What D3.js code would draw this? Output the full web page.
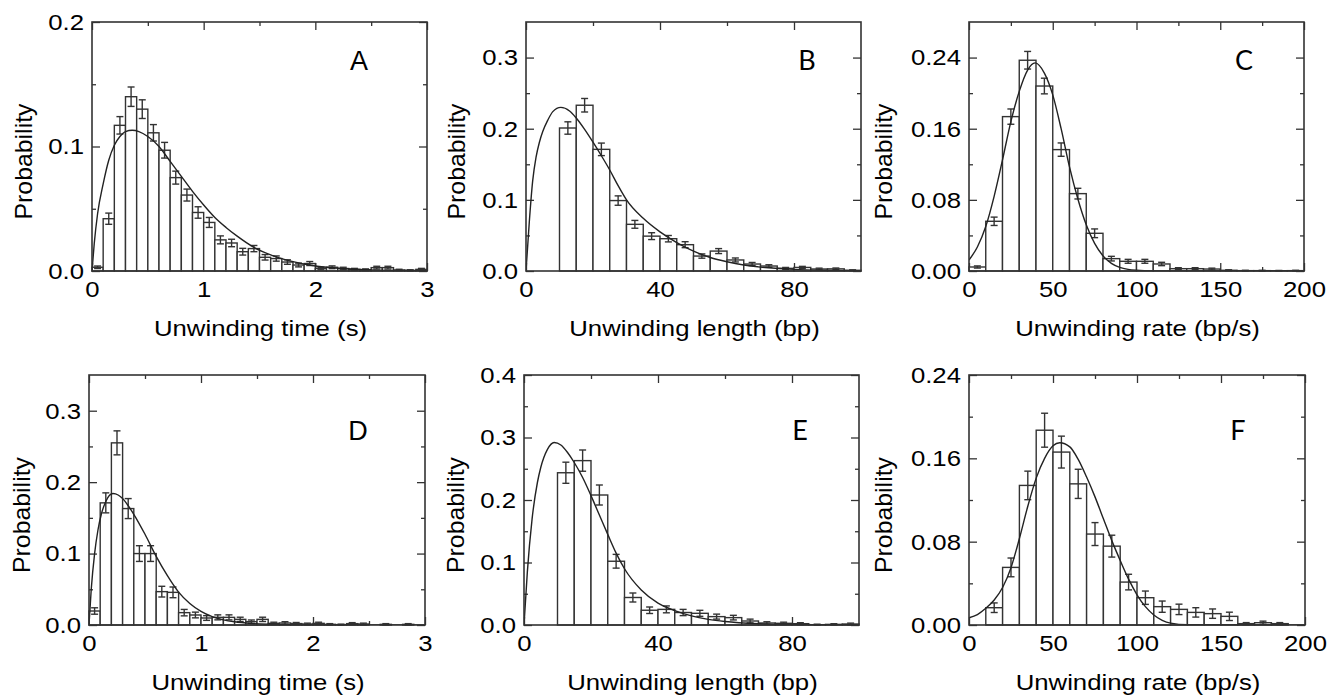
<!DOCTYPE html>
<html><head><meta charset="utf-8">
<script src="https://cdn.jsdelivr.net/npm/d3@7"></script>
<style>
body{margin:0;background:#fff}
svg{display:block}
</style>
</head><body>
<svg id="c" width="1341" height="697"></svg>
<script>
// ---------------- DATA ----------------
// Panel A: unwinding time (s), bin width 0.1
const aBins = [0,0.1,0.2,0.3,0.4,0.5,0.6,0.7,0.8,0.9,1.0,1.1,1.2,1.3,1.4,1.5,1.6,1.7,1.8,1.9,2.0,2.1,2.2,2.3,2.4,2.5,2.6,2.7,2.8,2.9];
const aProb = [0.003,0.042,0.117,0.140,0.130,0.111,0.097,0.075,0.061,0.047,0.039,0.025,0.0225,0.0155,0.018,0.011,0.010,0.0072,0.0048,0.006,0.002,0.003,0.002,0.0013,0.001,0.0027,0.0027,0.0008,0.0005,0.0013];
const aErr  = [0.001,0.0045,0.007,0.0078,0.0075,0.0066,0.0063,0.0052,0.0048,0.0046,0.004,0.0032,0.003,0.0027,0.0025,0.0022,0.0021,0.0018,0.0015,0.0016,0.001,0.0011,0.001,0.0008,0.0007,0.0011,0.0011,0.0006,0.0005,0.0008];
const aFitX = [0,0.02,0.05,0.1,0.15,0.2,0.25,0.3,0.36,0.42,0.5,0.6,0.7,0.8,0.9,1.0,1.1,1.2,1.3,1.45,1.6,1.8,2.0,2.2,2.5,2.8,3.0];
const aFitY = [0,0.022,0.046,0.070,0.089,0.101,0.108,0.112,0.113,0.112,0.108,0.100,0.088,0.076,0.064,0.053,0.043,0.035,0.028,0.019,0.013,0.0075,0.004,0.0022,0.0009,0.0004,0.0002];

// Panel B: unwinding length (bp), bin width 5
const bBins = [0,5,10,15,20,25,30,35,40,45,50,55,60,65,70,75,80,85,90,95];
const bProb = [0,0,0.201,0.233,0.171,0.099,0.0656,0.049,0.0454,0.037,0.021,0.028,0.0155,0.0098,0.007,0.0037,0.005,0.0028,0.003,0.001];
const bErr  = [0,0,0.0087,0.0095,0.0088,0.0066,0.0055,0.0048,0.0045,0.0042,0.003,0.0035,0.0028,0.0022,0.0018,0.0013,0.0015,0.0012,0.0012,0.0007];
const bFitX = [0,1,2,3,4,5,6.5,8,10.4,13,15,17.5,20,22.5,25,27.5,30,35,40,45,50,55,60,65,70,80,90,100];
const bFitY = [0,0.07,0.127,0.160,0.181,0.196,0.212,0.224,0.230,0.225,0.215,0.199,0.181,0.162,0.142,0.120,0.100,0.074,0.055,0.040,0.028,0.019,0.013,0.0085,0.0055,0.0023,0.001,0.0004];

// Panel C: unwinding rate (bp/s), bin width 10
const cBins = [0,10,20,30,40,50,60,70,80,90,100,110,120,130,140,150,160,170,180,190];
const cProb = [0.0045,0.0559,0.1736,0.237,0.208,0.1365,0.087,0.0424,0.0139,0.0109,0.0109,0.0079,0.0026,0.0026,0.0022,0.0008,0.0004,0.0004,0.0003,0.0004];
const cErr  = [0.0012,0.0047,0.0086,0.0099,0.0088,0.0075,0.006,0.0049,0.0026,0.0022,0.0022,0.0019,0.0011,0.0011,0.001,0.0006,0.0004,0.0004,0.0003,0.0004];
const cFitX = [0,5,10,15,20,25,30,35,39.5,45,50,55,60,65,70,75,80,85,90,95,100,110,120,200];
const cFitY = [0.0124,0.027,0.050,0.084,0.125,0.168,0.202,0.226,0.234,0.2225,0.198,0.160,0.117,0.081,0.052,0.031,0.017,0.0085,0.004,0.0018,0.0008,0.0001,0,0];

// Panel D: unwinding time (s), bin width 0.1
const dBins = [0,0.1,0.2,0.3,0.4,0.5,0.6,0.7,0.8,0.9,1.0,1.1,1.2,1.3,1.4,1.5,1.6,1.7,1.8,1.9,2.0,2.1,2.2,2.3,2.4,2.5,2.6,2.7,2.8,2.9];
const dProb = [0.0196,0.171,0.255,0.163,0.100,0.100,0.0467,0.0457,0.0173,0.014,0.0098,0.0107,0.0107,0.0079,0.0047,0.0079,0.0023,0.0028,0.002,0.0014,0.0023,0.0009,0.0005,0.0019,0.0014,0,0.0009,0,0.0009,0];
const dErr  = [0.0045,0.014,0.0168,0.014,0.011,0.011,0.0075,0.0075,0.0045,0.004,0.0033,0.0035,0.0035,0.003,0.0023,0.003,0.0016,0.0018,0.0015,0.0012,0.0016,0.001,0.0007,0.0014,0.0012,0,0.001,0,0.001,0];
const dFitX = [0,0.02,0.05,0.08,0.11,0.15,0.214,0.26,0.3,0.35,0.4,0.5,0.6,0.7,0.8,0.9,1.0,1.1,1.2,1.3,1.45,1.6,1.8,2.0,3.0];
const dFitY = [0,0.05,0.10,0.133,0.155,0.173,0.184,0.182,0.177,0.167,0.155,0.127,0.096,0.069,0.046,0.030,0.019,0.0117,0.0072,0.0045,0.0022,0.001,0.0004,0.0001,0];

// Panel E: unwinding length (bp), bin width 5
const eBins = [0,5,10,15,20,25,30,35,40,45,50,55,60,65,70,75,80,85,90,95];
const eProb = [0,0,0.2436,0.263,0.208,0.102,0.044,0.0236,0.025,0.020,0.0187,0.0134,0.0118,0.0064,0.0032,0.0027,0.0021,0.0005,0.001,0.0016];
const eErr  = [0,0,0.0169,0.017,0.016,0.011,0.0072,0.0052,0.0055,0.005,0.0048,0.004,0.0037,0.003,0.002,0.0018,0.0016,0.0008,0.0011,0.0014];
const eFitX = [0,1,2.4,4,5,7,9,11,13,15,17.5,20,22.5,25,27.5,30,35,40,45,50,55,60,70,80,90,100];
const eFitY = [0,0.085,0.169,0.228,0.252,0.281,0.292,0.288,0.276,0.260,0.236,0.207,0.176,0.145,0.115,0.090,0.056,0.035,0.023,0.0145,0.009,0.0055,0.002,0.0008,0.0003,0.0001];

// Panel F: unwinding rate (bp/s), bin width 10
const fBins = [0,10,20,30,40,50,60,70,80,90,100,110,120,130,140,150,160,170,180,190];
const fProb = [0,0.0166,0.0553,0.134,0.187,0.166,0.1355,0.0873,0.0757,0.0412,0.0262,0.0176,0.015,0.0121,0.0109,0.0083,0.0013,0.0022,0.0013,0];
const fErr  = [0,0.0046,0.009,0.0137,0.0163,0.0153,0.014,0.011,0.0105,0.0075,0.0064,0.0054,0.005,0.0045,0.0045,0.004,0.001,0.0015,0.001,0];
const fFitX = [0,5,10,15,20,25,30,35,40,45,50,54,60,65,70,75,80,85,90,95,100,105,110,115,120,130,200];
const fFitY = [0.007,0.010,0.016,0.024,0.036,0.055,0.083,0.114,0.141,0.160,0.172,0.175,0.171,0.159,0.142,0.123,0.102,0.081,0.062,0.044,0.029,0.0176,0.0096,0.0045,0.0018,0.0003,0];

// Axis tick values
const timeTicks = [0,1,2,3],        timeMinor = [0.5,1.5,2.5];
const lenTicks  = [0,40,80],        lenMinor  = [20,60];
const rateTicks = [0,50,100,150,200], rateMinor = [25,75,125,175];
const yTicksA = [0,0.1,0.2],        yMinorA = [0.05,0.15];
const yTicksB = [0,0.1,0.2,0.3],    yMinorB = [0.05,0.15,0.25];
const yTicksC = [0,0.08,0.16,0.24], yMinorC = [0.04,0.12,0.20];
const yTicksD = [0,0.1,0.2,0.3],    yMinorD = [0.05,0.15,0.25];
const yTicksE = [0,0.1,0.2,0.3,0.4], yMinorE = [0.05,0.15,0.25,0.35];
const yTicksF = [0,0.08,0.16,0.24], yMinorF = [0.04,0.12,0.20];

const labels = ['A','B','C','D','E','F'];
const xTitles = ['Unwinding time (s)','Unwinding length (bp)','Unwinding rate (bp/s)','Unwinding time (s)','Unwinding length (bp)','Unwinding rate (bp/s)'];
const yTitle = 'Probability';

// ---------------- LAYOUT ----------------
const FONT = '"Liberation Sans", Arial, Helvetica, sans-serif';
const LFONT = 'Lato, "Open Sans", sans-serif';
const SX = 1.12;
const INK = '#333';
const TXT = '#000';

const panels = [
  {bins:aBins, w:0.1, prob:aProb, err:aErr, fx:aFitX, fy:aFitY, xd:[0,3],   yd:[0,0.2],  xt:timeTicks, xm:timeMinor, yt:yTicksA, ym:yMinorA, yf:'.1f', box:[92,22,427,271],  ytx:60, lx:359, ly:69.5, lf:FONT},
  {bins:bBins, w:5,   prob:bProb, err:bErr, fx:bFitX, fy:bFitY, xd:[0,100], yd:[0,0.35], xt:lenTicks,  xm:lenMinor,  yt:yTicksB, ym:yMinorB, yf:'.1f', box:[526,22,861,271], ytx:61, lx:807, ly:69.5, lf:LFONT},
  {bins:cBins, w:10,  prob:cProb, err:cErr, fx:cFitX, fy:cFitY, xd:[0,200], yd:[0,0.28], xt:rateTicks, xm:rateMinor, yt:yTicksC, ym:yMinorC, yf:'.2f', box:[969,22,1304,271], ytx:77, lx:1244, ly:69.5, lf:LFONT},
  {bins:dBins, w:0.1, prob:dProb, err:dErr, fx:dFitX, fy:dFitY, xd:[0,3],   yd:[0,0.35], xt:timeTicks, xm:timeMinor, yt:yTicksD, ym:yMinorD, yf:'.1f', box:[89,375,425,625],  ytx:59, lx:358, ly:440, lf:FONT},
  {bins:eBins, w:5,   prob:eProb, err:eErr, fx:eFitX, fy:eFitY, xd:[0,100], yd:[0,0.4],  xt:lenTicks,  xm:lenMinor,  yt:yTicksE, ym:yMinorE, yf:'.1f', box:[524,375,859,625], ytx:60, lx:800, ly:440, lf:LFONT},
  {bins:fBins, w:10,  prob:fProb, err:fErr, fx:fFitX, fy:fFitY, xd:[0,200], yd:[0,0.24], xt:rateTicks, xm:rateMinor, yt:yTicksF, ym:yMinorF, yf:'.2f', box:[969,375,1305,625], ytx:77, lx:1238, ly:440, lf:LFONT}
];

const svg = d3.select('#c');

function stretchText(sel){
  sel.each(function(){
    const t = d3.select(this);
    const x = +t.attr('x') || 0;
    t.attr('x', 0).attr('transform', `translate(${x},0) scale(${SX},1)`);
  });
}

panels.forEach((p, i) => {
  const [x0, y0, x1, y1] = p.box;
  const g = svg.append('g');
  const x = d3.scaleLinear().domain(p.xd).range([x0, x1]);
  const y = d3.scaleLinear().domain(p.yd).range([y1, y0]);
  const cid = 'clip' + i;
  svg.append('clipPath').attr('id', cid).append('rect')
    .attr('x', x0).attr('y', y0).attr('width', x1 - x0).attr('height', y1 - y0);

  const styleAxis = (ax) => {
    ax.select('.domain').remove();
    ax.selectAll('.tick line').attr('stroke', INK).attr('stroke-width', 1.3);
    ax.selectAll('text').attr('font-size', 23).attr('font-family', FONT).attr('fill', TXT);
  };

  // major ticks (inward) on four sides
  g.append('g').attr('transform', `translate(0,${y1})`)
    .call(d3.axisBottom(x).tickValues(p.xt).tickSizeInner(-8).tickSizeOuter(0).tickPadding(9.5).tickFormat(d3.format('d')))
    .call(styleAxis).call(ax => stretchText(ax.selectAll('text')));
  g.append('g').attr('transform', `translate(0,${y0})`)
    .call(d3.axisTop(x).tickValues(p.xt).tickSizeInner(-8).tickSizeOuter(0).tickFormat(''))
    .call(styleAxis);
  g.append('g').attr('transform', `translate(${x0},0)`)
    .call(d3.axisLeft(y).tickValues(p.yt).tickSizeInner(-8).tickSizeOuter(0).tickPadding(8).tickFormat(d3.format(p.yf)))
    .call(styleAxis).call(ax => stretchText(ax.selectAll('text')));
  g.append('g').attr('transform', `translate(${x1},0)`)
    .call(d3.axisRight(y).tickValues(p.yt).tickSizeInner(-8).tickSizeOuter(0).tickFormat(''))
    .call(styleAxis);
  // minor ticks
  g.append('g').attr('transform', `translate(0,${y1})`)
    .call(d3.axisBottom(x).tickValues(p.xm).tickSizeInner(-4).tickSizeOuter(0).tickFormat('')).call(styleAxis);
  g.append('g').attr('transform', `translate(0,${y0})`)
    .call(d3.axisTop(x).tickValues(p.xm).tickSizeInner(-4).tickSizeOuter(0).tickFormat('')).call(styleAxis);
  g.append('g').attr('transform', `translate(${x0},0)`)
    .call(d3.axisLeft(y).tickValues(p.ym).tickSizeInner(-4).tickSizeOuter(0).tickFormat('')).call(styleAxis);
  g.append('g').attr('transform', `translate(${x1},0)`)
    .call(d3.axisRight(y).tickValues(p.ym).tickSizeInner(-4).tickSizeOuter(0).tickFormat('')).call(styleAxis);

  // bars
  const data = p.bins.map((b, k) => ({b, v: p.prob[k], e: p.err[k]})).filter(d => d.v > 0);
  g.append('g').selectAll('rect').data(data).join('rect')
    .attr('x', d => x(d.b))
    .attr('y', d => y(d.v))
    .attr('width', d => x(d.b + p.w) - x(d.b))
    .attr('height', d => y(0) - y(d.v))
    .attr('fill', '#fff').attr('stroke', INK).attr('stroke-width', 1.4);

  // error bars
  const eb = g.append('g').attr('stroke', INK).attr('stroke-width', 1.4).attr('fill', 'none');
  const cx = d => x(d.b + p.w / 2);
  eb.selectAll('line.v').data(data).join('line').attr('class', 'v')
    .attr('x1', cx).attr('x2', cx).attr('y1', d => y(d.v - d.e)).attr('y2', d => y(d.v + d.e));
  eb.selectAll('line.t').data(data).join('line').attr('class', 't')
    .attr('x1', d => cx(d) - 3.5).attr('x2', d => cx(d) + 3.5).attr('y1', d => y(d.v + d.e)).attr('y2', d => y(d.v + d.e));
  eb.selectAll('line.b').data(data).join('line').attr('class', 'b')
    .attr('x1', d => cx(d) - 3.5).attr('x2', d => cx(d) + 3.5).attr('y1', d => y(d.v - d.e)).attr('y2', d => y(d.v - d.e));

  // fit curve
  const pts = p.fx.map((v, k) => [v, p.fy[k]]);
  g.append('path').datum(pts)
    .attr('clip-path', `url(#${cid})`)
    .attr('d', d3.line().x(d => x(d[0])).y(d => y(d[1])).curve(d3.curveMonotoneX))
    .attr('fill', 'none').attr('stroke', '#222').attr('stroke-width', 1.4);

  // frame
  g.append('rect').attr('x', x0).attr('y', y0).attr('width', x1 - x0).attr('height', y1 - y0)
    .attr('fill', 'none').attr('stroke', INK).attr('stroke-width', 1.6);

  // x title
  g.append('text')
    .attr('transform', `translate(${(x0 + x1) / 2 + 1},${y1 + 65}) scale(${SX},1)`)
    .attr('text-anchor', 'middle').attr('font-size', 23).attr('font-family', FONT).attr('fill', TXT)
    .text(xTitles[i]);
  // y title
  g.append('text')
    .attr('transform', `translate(${x0 - p.ytx},${(y0 + y1) / 2 + 15}) rotate(-90) scale(1.08,1)`)
    .attr('text-anchor', 'middle').attr('font-size', 23).attr('font-family', FONT).attr('fill', TXT)
    .text(yTitle);
  // panel letter
  g.append('text')
    .attr('x', p.lx).attr('y', p.ly)
    .attr('text-anchor', 'middle').attr('font-size', 27).attr('font-family', p.lf).attr('fill', TXT)
    .text(labels[i]);
});
</script>
</body></html>
